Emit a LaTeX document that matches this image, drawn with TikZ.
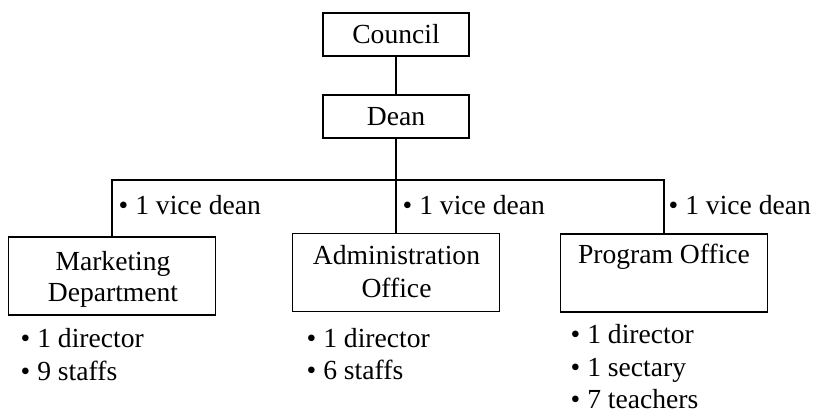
\documentclass[tikz,border=0pt]{standalone}
\usepackage{fontspec}
\setmainfont{Liberation Serif}
\begin{document}
\begin{tikzpicture}[x=1pt,y=-1pt,
  unitbox/.style={draw, line width=1.6pt, inner sep=0pt},
  smallbox/.style={unitbox, minimum width=146pt, minimum height=43pt},
  bigbox/.style={unitbox, minimum width=207pt, minimum height=78pt},
  txt/.style={inner sep=0pt, anchor=base, font=\fontsize{27.6}{33}\selectfont},
  item/.style={inner sep=0pt, anchor=base west, font=\fontsize{27.6}{33}\selectfont},
  link/.style={line width=1.6pt}]
\useasboundingbox (0,0) rectangle (818,414);

% boxes
\node[smallbox] (council) at (396,34.5) {};
\node[smallbox] (dean) at (396,116.5) {};
\node[bigbox] (mkt) at (112,276) {};
\node[bigbox] (adm) at (396,272.5) {};
\node[bigbox] (prg) at (664,273) {};

% box titles
\node[txt] (councilT) at (396,44) {Council};
\node[txt] (deanT) at (396,126) {Dean};
\node[txt] (mktT1) at (113,270) {Marketing};
\node[txt] (mktT2) at (113,301) {Department};
\node[txt] (admT1) at (396.5,264) {Administration};
\node[txt] (admT2) at (396.5,297) {Office};
\node[txt] (prgT) at (664,263) {Program Office};

% connectors
\coordinate (bus) at (0,180);
\draw[link] (council.south) -- (dean.north);
\draw[link] (dean.south) -- (adm.north);
\draw[link] (mkt.north) -- (mkt.north |- bus) -- (prg.north |- bus) -- (prg.north);

% vice dean notes
\node[item] (mktV) at (118.5,214) {• 1 vice dean};
\node[item] (admV) at (402.5,214) {• 1 vice dean};
\node[item] (prgV) at (668.5,214) {• 1 vice dean};

% staff lists
\node[item] (mktL1) at (20.5,347) {• 1 director};
\node[item] (mktL2) at (20.5,380) {• 9 staffs};
\node[item] (admL1) at (306.5,347) {• 1 director};
\node[item] (admL2) at (306.5,379) {• 6 staffs};
\node[item] (prgL1) at (570.5,343) {• 1 director};
\node[item] (prgL2) at (570.5,376) {• 1 sectary};
\node[item] (prgL3) at (570.5,408) {• 7 teachers};
\end{tikzpicture}
\end{document}
